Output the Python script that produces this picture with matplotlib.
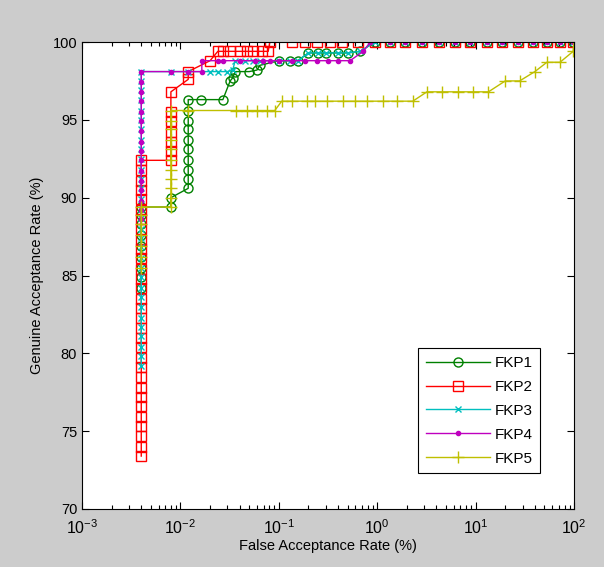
import matplotlib
matplotlib.use("Agg")
import matplotlib.pyplot as plt
from matplotlib.ticker import LogLocator, NullFormatter

plt.rcParams["font.family"] = ["Liberation Sans", "DejaVu Sans"]
plt.rcParams["mathtext.default"] = "regular"

# values (FAR in %, GAR in %)
TOP_FAR = [0.64, 0.95, 1.35, 1.9, 2.85, 4.2, 6.2, 8.7, 13, 18.6, 27, 38, 53, 72, 98]

fkp1_far = [0.004] * 9 + [0.008, 0.008] + [0.012] * 10 + [
    0.016, 0.027, 0.032, 0.034, 0.036, 0.05, 0.06, 0.064, 0.10, 0.13, 0.156,
    0.2, 0.25, 0.3, 0.4, 0.5, 0.67] + TOP_FAR[1:]
fkp1_gar = [84.2, 84.9, 85.5, 86.2, 86.9, 87.6, 88.3, 88.9, 89.4, 89.4, 90.0,
            90.6, 91.2, 91.8, 92.4, 93.1, 93.7, 94.4, 94.9, 95.6, 96.3,
            96.3, 96.3, 97.5, 97.7, 98.1, 98.1, 98.2, 98.5, 98.8, 98.8, 98.8,
            99.3, 99.3, 99.3, 99.3, 99.3, 99.4] + [100] * 14

fkp2_far = [0.004] * 31 + [0.008] * 7 + [
    0.012, 0.012, 0.02, 0.024, 0.027, 0.032, 0.04, 0.047, 0.055, 0.068, 0.078,
    0.081, 0.136, 0.185, 0.244, 0.33, 0.44] + TOP_FAR
fkp2_gar = [73.4, 74.0, 74.7, 75.3, 75.9, 76.6, 77.2, 77.8, 78.5, 79.1, 79.7,
            80.4, 81.0, 81.6, 82.3, 82.9, 83.5, 84.2, 84.8, 85.4, 86.1, 86.7,
            87.3, 88.0, 88.6, 89.2, 89.9, 90.5, 91.1, 91.8, 92.4,
            92.4, 93.0, 93.6, 94.2, 94.9, 95.5, 96.8,
            97.6, 98.1, 98.8, 99.4, 99.4, 99.4, 99.4, 99.4, 99.4, 99.4, 99.4,
            100, 100, 100, 100, 100, 100] + [100] * 15

fkp3_far = [0.004] * 31 + [
    0.008, 0.012, 0.02, 0.024, 0.03, 0.034, 0.036, 0.045, 0.055, 0.065, 0.10,
    0.13, 0.156, 0.2, 0.25, 0.3, 0.4, 0.5, 0.67] + TOP_FAR[1:]
fkp3_gar = [79.2, 79.8, 80.4, 81.1, 81.7, 82.3, 83.0, 83.6, 84.2, 84.9, 85.5,
            86.1, 86.8, 87.4, 88.0, 88.7, 89.3, 89.9, 90.6, 91.2, 91.8, 92.5,
            93.1, 93.7, 94.4, 95.0, 95.6, 96.3, 96.9, 97.5, 98.1,
            98.1, 98.1, 98.1, 98.1, 98.1, 98.2, 98.8, 98.8, 98.8, 98.8, 98.8,
            98.8, 98.8, 99.3, 99.3, 99.3, 99.3, 99.3, 99.4] + [100] * 14

fkp4_far = [0.004] * 16 + [
    0.008, 0.012, 0.0165, 0.0165, 0.024, 0.027, 0.04, 0.057, 0.069, 0.081,
    0.10, 0.136, 0.185, 0.244, 0.316, 0.4, 0.53, 0.72, 0.85] + TOP_FAR[2:]
fkp4_gar = [88.6, 89.2, 89.8, 90.5, 91.1, 91.7, 92.4, 93.0, 93.6, 94.3, 94.9,
            95.5, 96.2, 96.8, 97.4, 98.1,
            98.1, 98.1, 98.1, 98.8, 98.8, 98.8, 98.8, 98.8, 98.8, 98.8, 98.8,
            98.8, 98.8, 98.8, 98.8, 98.8, 98.8, 99.4, 100] + [100] * 13

fkp5_far = [0.004] * 7 + [0.008] * 11 + [
    0.012, 0.037, 0.047, 0.06, 0.076, 0.091, 0.107, 0.136, 0.194, 0.233,
    0.31, 0.45, 0.59, 0.79, 1.14, 1.59, 2.3, 3.2, 4.5, 6.6, 9.4, 13.5,
    20, 28, 40, 53, 72, 98, 100]
fkp5_gar = [85.5, 86.2, 86.9, 87.6, 88.3, 88.9, 89.4,
            89.4, 90.0, 90.6, 91.2, 91.8, 92.4, 93.1, 93.7, 94.4, 94.9, 95.6,
            95.6, 95.6, 95.6, 95.6, 95.6, 95.6, 96.2, 96.2, 96.2, 96.2,
            96.2, 96.2, 96.2, 96.2, 96.2, 96.2, 96.2, 96.8, 96.8, 96.8, 96.8,
            96.8, 97.5, 97.5, 98.1, 98.7, 98.7, 99.4, 100]

SERIES = ["FKP1", "FKP2", "FKP3", "FKP4", "FKP5"]
COLORS = ["#008000", "#ff0000", "#00bfbf", "#bf00bf", "#bfbf00"]
MARKERS = ["o", "s", "x", ".", "+"]
MSIZE = [6.5, 7.5, 4.5, 6, 9]


def main():
    fig = plt.figure(figsize=(6.04, 5.67), dpi=100, facecolor="#cccccc")
    ax = fig.add_axes([0.1358, 0.1023, 0.8146, 0.8236])

    data = [(fkp1_far, fkp1_gar), (fkp2_far, fkp2_gar), (fkp3_far, fkp3_gar),
            (fkp4_far, fkp4_gar), (fkp5_far, fkp5_gar)]
    for (far, gar), name, c, m, ms in zip(data, SERIES, COLORS, MARKERS, MSIZE):
        ax.plot(far, gar, color=c, marker=m, markersize=ms, linewidth=1.0,
                markerfacecolor="none" if m in ("o", "s") else c,
                markeredgewidth=1.0, label=name)

    ax.set_xscale("log")
    ax.set_xlim(1e-3, 1e2)
    ax.set_ylim(70, 100)
    ax.set_yticks(range(70, 101, 5))
    ax.xaxis.set_major_locator(LogLocator(base=10, numticks=10))
    ax.xaxis.set_minor_locator(LogLocator(base=10, subs=range(2, 10), numticks=20))
    ax.xaxis.set_minor_formatter(NullFormatter())
    ax.tick_params(which="both", direction="in", top=True, right=True,
                   labelsize=10.5, width=0.8)
    ax.tick_params(axis="x", which="major", labelsize=11.5, pad=7)
    ax.tick_params(which="major", length=5)
    ax.tick_params(which="minor", length=3)
    for s in ax.spines.values():
        s.set_linewidth(0.8)

    ax.set_xlabel("False Acceptance Rate (%)", fontsize=10.5, labelpad=1)
    ax.set_ylabel("Genuine Acceptance Rate (%)", fontsize=10.5, labelpad=6)

    leg = ax.legend(loc="lower right", bbox_to_anchor=(0.947, 0.06),
                    fontsize=11, handlelength=4.2, labelspacing=0.65,
                    fancybox=False, edgecolor="black", framealpha=1,
                    borderpad=0.5, handletextpad=0.3)
    leg.get_frame().set_linewidth(0.8)

    fig.savefig("out.png", dpi=100, facecolor=fig.get_facecolor())
    plt.close(fig)


if __name__ == "__main__":
    main()
